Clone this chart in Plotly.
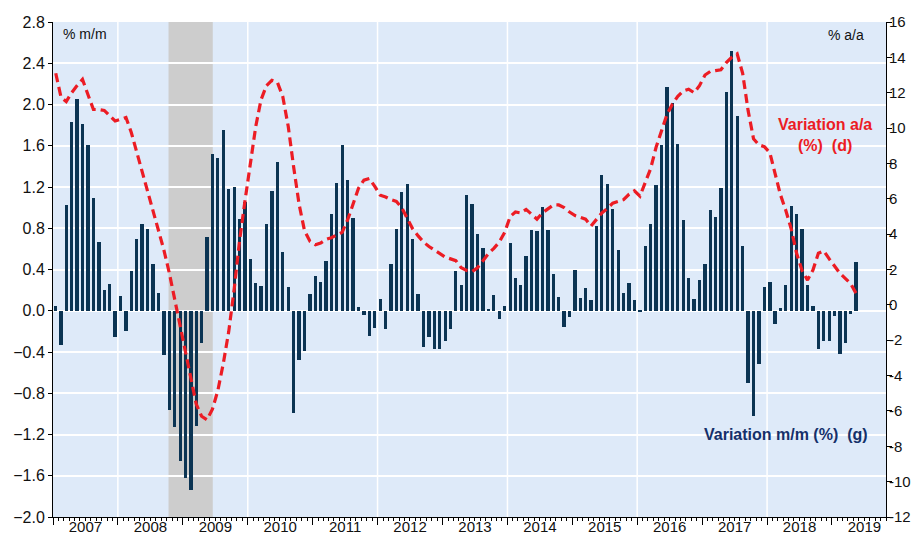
import pandas as pd
import plotly.graph_objects as go

# Monthly variation m/m (%) -- left axis, Jan 2007 .. May 2019
mm = [
    0.05, -0.33, 1.03, 1.83, 2.05, 1.81, 1.61, 1.09, 0.67, 0.20, 0.26, -0.25,   # 2007
    0.14, -0.20, 0.39, 0.70, 0.84, 0.79, 0.45, 0.17, -0.43, -0.96, -1.13, -1.46,  # 2008
    -1.62, -1.74, -1.12, -0.31, 0.72, 1.52, 1.48, 1.75, 1.18, 1.20, 0.89, 1.05,  # 2009
    0.50, 0.27, 0.24, 0.84, 1.16, 1.44, 0.57, 0.23, -0.99, -0.48, -0.39, 0.16,   # 2010
    0.34, 0.28, 0.48, 0.94, 1.24, 1.61, 1.27, 0.90, 0.04, -0.04, -0.24, -0.17,   # 2011
    0.11, -0.18, 0.45, 0.79, 1.15, 1.23, 0.70, 0.16, -0.35, -0.25, -0.37, -0.37,  # 2012
    -0.29, -0.18, 0.39, 0.25, 1.12, 1.04, 0.74, 0.61, 0.01, 0.15, -0.08, 0.05,   # 2013
    0.66, 0.32, 0.25, 0.53, 0.78, 0.77, 1.01, 0.78, 0.36, 0.13, -0.16, -0.06,    # 2014
    0.40, 0.12, 0.22, 0.10, 0.82, 1.32, 1.23, 0.99, 0.59, 0.17, 0.27, 0.10,      # 2015
    -0.01, 0.63, 0.84, 1.22, 1.61, 2.17, 2.01, 1.62, 0.88, 0.32, 0.11, 0.30,     # 2016
    0.45, 0.98, 0.91, 1.19, 2.12, 2.52, 1.89, 0.63, -0.70, -1.02, -0.52, 0.23,   # 2017
    0.28, -0.13, 0.03, 0.25, 1.02, 0.94, 0.79, 0.25, 0.05, -0.37, -0.29, -0.29,  # 2018
    -0.05, -0.42, -0.31, -0.03, 0.47,                                            # 2019
]

# Annual variation a/a (%) -- right axis
aa = [
    13.1, 11.75, 11.5, 12.0, 12.4, 12.75, 11.9, 11.05, 11.05, 11.0, 10.7, 10.4,  # 2007
    10.5, 10.6, 9.75, 8.65, 7.5, 6.4, 5.3, 4.2, 3.1, 1.8, 0.3, -1.1,             # 2008
    -2.5, -4.1, -5.6, -6.3, -6.5, -5.9, -4.85, -3.3, -1.5, 0.9, 3.65, 5.9,       # 2009
    8.0, 10.1, 11.6, 12.4, 12.7, 12.6, 11.8, 10.1, 7.8, 5.7, 4.2, 3.6,           # 2010
    3.4, 3.5, 3.7, 3.8, 3.95, 4.1, 4.8, 5.7, 6.6, 7.05, 7.15, 6.7,               # 2011
    6.2, 6.1, 5.95, 5.85, 5.5, 4.9, 4.3, 3.9, 3.55, 3.3, 3.1, 2.85,              # 2012
    2.7, 2.6, 2.5, 2.1, 1.95, 1.88, 2.1, 2.5, 2.9, 3.2, 3.55, 4.1,               # 2013
    5.0, 5.25, 5.2, 5.4, 5.1, 4.85, 5.2, 5.4, 5.65, 5.65, 5.5, 5.25,             # 2014
    5.05, 4.95, 4.85, 4.45, 4.85, 5.2, 5.45, 5.75, 5.85, 5.95, 6.25, 6.45,       # 2015
    6.15, 6.9, 7.7, 8.9, 9.8, 10.75, 11.35, 11.8, 12.1, 12.2, 12.0, 12.4,        # 2016
    13.0, 13.2, 13.25, 13.3, 13.7, 14.0, 14.2, 13.1, 11.0, 9.4, 9.05, 8.95,      # 2017
    8.6, 7.5, 6.25, 5.35, 4.3, 2.92, 1.95, 1.4, 1.97, 2.92, 3.05, 2.6,           # 2018
    2.2, 1.78, 1.5, 1.2, 0.65,                                                   # 2019
]

start_month = "2007-01-01"
x_range = ["2007-01-01", "2019-11-01"]
recession = ("2008-10-12", "2009-06-18")
left_ticks = [round(-2.0 + 0.4 * i, 1) for i in range(13)]
right_ticks = list(range(-12, 17, 2))
right_labels = [str(v) for v in right_ticks]   # plain hyphen minus, as in the source

months = pd.date_range(start_month, periods=len(mm), freq="MS")

BAR = "#0B3453"
RED = "#EC1C24"
NAVY = "#15306A"
BG = "#DEEAF9"
FONT = "Arial, Liberation Sans, sans-serif"

fig = go.Figure()
fig.add_trace(go.Bar(
    x=months, y=mm, xperiod="M1", xperiodalignment="middle",
    marker=dict(color=BAR, line=dict(width=0)),
    width=18.5 * 86400000, yaxis="y", name="m/m",
))
fig.add_trace(go.Scatter(
    x=months, y=aa, xperiod="M1", xperiodalignment="middle",
    mode="lines", line=dict(color=RED, width=3.2, dash="9px,5px"),
    yaxis="y2", name="a/a",
))

shapes = [dict(type="rect", xref="x", yref="paper", x0=recession[0], x1=recession[1],
               y0=0, y1=1, fillcolor="#CDCDCD", line=dict(width=0), layer="below")]
for yr in range(2008, 2019, 2):
    shapes.append(dict(type="line", xref="x", yref="paper", x0=f"{yr}-01-01", x1=f"{yr}-01-01",
                       y0=0, y1=1, line=dict(color="white", width=1.5), layer="below"))

# the page body has an 8px margin on every side, so the figure is sized to fit inside it
fig.update_layout(
    width=906, height=526,
    margin=dict(l=45, r=28, t=14, b=17, autoexpand=False),
    paper_bgcolor="white", plot_bgcolor=BG,
    showlegend=False, bargap=0,
    font=dict(family=FONT, size=16, color="#111111"),
    shapes=shapes,
    xaxis=dict(
        type="date", range=x_range, tick0="2007-01-01", dtick="M12",
        ticklabelmode="period", tickformat="%Y", automargin=False,
        ticklabelstandoff=-11,
        ticks="outside", ticklen=7, tickcolor="black", tickwidth=1,
        showline=True, linecolor="black", linewidth=1,
        showgrid=False, zeroline=False,
        minor=dict(dtick="M1", ticks="outside", ticklen=3, tickcolor="black", showgrid=False),
        tickfont=dict(size=15),
    ),
    yaxis=dict(
        range=[-2.0, 2.8], tickvals=left_ticks, tickformat=".1f", automargin=False,
        ticks="outside", ticklen=4, tickcolor="black",
        showline=True, linecolor="black", linewidth=1,
        showgrid=True, gridcolor="white", gridwidth=1.5, zeroline=False,
        tickfont=dict(size=16),
    ),
    yaxis2=dict(
        range=[-12, 16], tickvals=right_ticks, ticktext=right_labels,
        overlaying="y", side="right",
        automargin=False, ticklabelstandoff=-6,
        ticks="outside", ticklen=5, tickcolor="black",
        showline=True, linecolor="black", linewidth=1,
        showgrid=False, zeroline=False,
        tickfont=dict(size=15),
    ),
    annotations=[
        dict(text="% m/m", xref="paper", yref="paper", x=0.0384, y=0.9758,
             showarrow=False, xanchor="center", yanchor="middle",
             font=dict(size=14, color="#111111")),
        dict(text="% a/a", xref="paper", yref="paper", x=0.952, y=0.9747,
             showarrow=False, xanchor="center", yanchor="middle",
             font=dict(size=14, color="#111111")),
        dict(text="<b>Variation a/a</b><br><b>(%)\u00a0 (d)</b>", xref="paper", yref="paper",
             x=0.9268, y=0.7727, showarrow=False, xanchor="center", yanchor="middle",
             align="center", font=dict(size=16, color=RED)),
        dict(text="<b>Variation m/m (%)\u00a0 (g)</b>", xref="paper", yref="paper",
             x=0.88, y=0.1657, showarrow=False, xanchor="center", yanchor="middle",
             font=dict(size=16, color=NAVY)),
    ],
)

fig.write_html("out.html")
